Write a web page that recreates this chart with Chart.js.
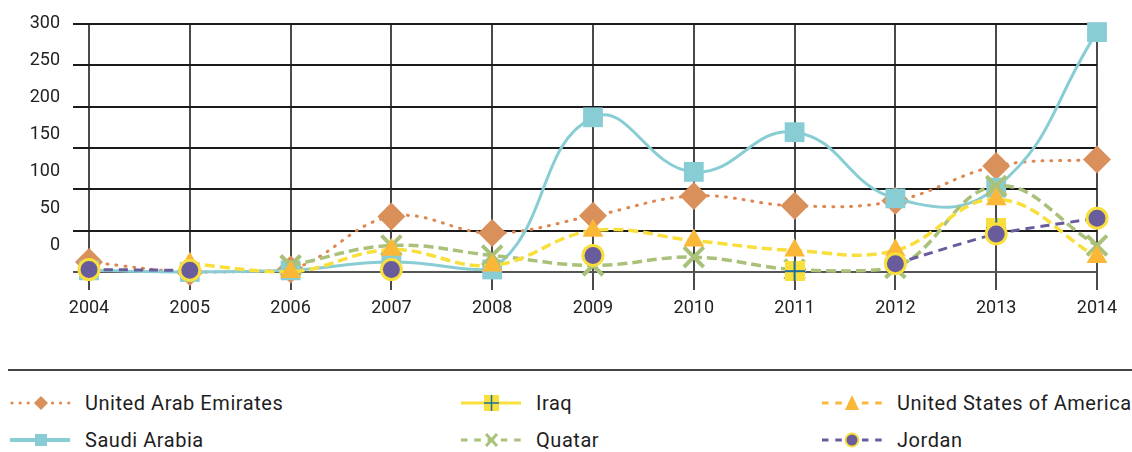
<!DOCTYPE html>
<html><head><meta charset="utf-8">
<script src="https://cdn.jsdelivr.net/npm/chart.js@4"></script>
<style>
html,body{margin:0;padding:0;background:#fff;}
body{width:1132px;height:452px;position:relative;overflow:hidden;font-family:Roboto,sans-serif;}
#wrap{position:absolute;left:0;top:0;width:1132px;height:330px;}
#sep{position:absolute;left:8px;top:369px;width:1124px;height:2px;background:#444;}
.item{position:absolute;height:24px;display:flex;align-items:center;font-size:20px;letter-spacing:0.55px;color:#1e1e1e;white-space:nowrap;}
.item svg{margin-right:13px;flex:none;}
</style></head>
<body>
<div id="wrap"><canvas id="c" width="1132" height="330"></canvas></div>
<div id="sep"></div>
<div id="legend"></div>
<script>
const years = ['2004','2005','2006','2007','2008','2009','2010','2011','2012','2013','2014'];
const uae    = [12, 0, 3, 67, 47, 68, 92, 80, 86, 128, 136];
const iraq   = [null, null, null, null, null, null, null, 1, null, 53, null];
const usa    = [null, 10, 0, 27, 8, 50, 38, 26, 26, 88, 18];
const saudi  = [2, 0, 2, 12, 3, 187, 121, 169, 89, 102, 290];
const quatar = [null, null, 8, 32, 20, 8, 18, 3, 5, 104, 32];
const jordan = [3, 2, null, 3, null, 20, null, null, 10, 46, 65];
const yTickLabels = [0, 50, 100, 150, 200, 250, 300];

const C = {
  uaeLine:'#de8550', uaeMark:'#d9905a',
  teal:'#88cdd4',
  yellow:'#f8df3c', tri:'#fbb838',
  green:'#a9c179',
  purple:'#695c9c',
  blue:'#1b6e9e'
};

// Iraq marker: yellow square with blue plus
const iraqImg = document.createElement('canvas');
iraqImg.width = 20; iraqImg.height = 20;
(function(){
  const g = iraqImg.getContext('2d');
  g.fillStyle = C.yellow; g.fillRect(0,0,20,20);
  g.strokeStyle = C.blue; g.lineWidth = 2;
  g.beginPath(); g.moveTo(10,0); g.lineTo(10,20); g.moveTo(0,10); g.lineTo(20,10); g.stroke();
})();

const font = {family:'Roboto', size:18};

new Chart(document.getElementById('c'), {
  type:'line',
  data:{
    labels: years,
    datasets:[
      {label:'United Arab Emirates', data:uae, yAxisID:'y', borderColor:C.uaeLine, borderWidth:3, borderDash:[1,8], borderCapStyle:'round',
        pointStyle:'rectRot', pointRadius:14, pointBackgroundColor:C.uaeMark, pointBorderWidth:0, tension:0.4, order:5, clip:false},
      {label:'Iraq', data:iraq, yAxisID:'y', borderColor:C.yellow, borderWidth:3,
        pointStyle:iraqImg, pointRadius:10, tension:0.4, order:2, clip:false},
      {label:'United States of America', data:usa, yAxisID:'y', borderColor:C.yellow, borderWidth:3.5, borderDash:[10,5],
        pointStyle:'triangle', pointRadius:12, pointBackgroundColor:C.tri, pointBorderWidth:0, tension:0.4, order:1, clip:false},
      {label:'Saudi Arabia', data:saudi, yAxisID:'y', borderColor:C.teal, borderWidth:3,
        pointStyle:'rect', pointRadius:14, pointBackgroundColor:C.teal, pointBorderWidth:0, tension:0.45, order:4, clip:false},
      {label:'Quatar', data:quatar, yAxisID:'y', borderColor:C.green, borderWidth:3.5, borderDash:[10,5],
        pointStyle:'crossRot', pointRadius:14, pointBorderColor:C.green, pointBorderWidth:4, tension:0.4, order:3, clip:false},
      {label:'Jordan', data:jordan, yAxisID:'y', borderColor:C.purple, borderWidth:3, borderDash:[9,6],
        pointStyle:'circle', pointRadius:10, pointBackgroundColor:C.purple, pointBorderColor:C.yellow, pointBorderWidth:3, tension:0.2, order:0, clip:false}
    ]
  },
  options:{
    responsive:false, animation:false,
    layout:{padding:{top:21, right:35, left:0, bottom:0}},
    plugins:{legend:{display:false}, tooltip:{enabled:false}},
    elements:{point:{hoverRadius:0}},
    scales:{
      x:{type:'category', offset:false,
        grid:{color:'#4a4a4a', lineWidth:2, tickLength:18, drawTicks:true},
        border:{display:false},
        ticks:{font:font, color:'#222', padding:8, maxRotation:0, autoSkip:false},
        afterFit:s=>{s.height=58;}},
      yl:{position:'left', min:-36.2, max:300, weight:1,
        grid:{display:false, drawTicks:false}, border:{display:false},
        ticks:{font:font, color:'#222', padding:13},
        afterBuildTicks:s=>{s.ticks = yTickLabels.map(v=>({value:v}));},
        afterFit:s=>{s.width=73;}},
      y:{position:'left', min:0, max:300, weight:0,
        ticks:{display:false, stepSize:50},
        grid:{color:c=> (c.tick && c.tick.value===0) ? '#555' : '#1a1a1a', lineWidth:2, tickLength:16},
        border:{display:false},
        afterFit:s=>{s.width=16;}}
    }
  }
});

// HTML legend
const legendItems = [
  {label:'United Arab Emirates', x:10, y:391, svg:
    `<line x1="2" y1="12" x2="60" y2="12" stroke="${C.uaeLine}" stroke-width="3" stroke-dasharray="0.1 8" stroke-linecap="round"/>
     <polygon points="31,5 38,12 31,19 24,12" fill="${C.uaeMark}"/>`},
  {label:'Iraq', x:461, y:391, svg:
    `<line x1="0" y1="12" x2="60" y2="12" stroke="${C.yellow}" stroke-width="3"/>
     <rect x="23" y="4" width="15" height="16" fill="${C.yellow}"/>
     <line x1="30.5" y1="4" x2="30.5" y2="20" stroke="${C.blue}" stroke-width="1.5"/>
     <line x1="23" y1="12" x2="38" y2="12" stroke="${C.blue}" stroke-width="1.5"/>`},
  {label:'United States of America', x:822, y:391, svg:
    `<line x1="0" y1="12" x2="60" y2="12" stroke="${C.tri}" stroke-width="3" stroke-dasharray="6.5 6.8"/>
     <polygon points="30,4 37,19 23,19" fill="${C.tri}"/>`},
  {label:'Saudi Arabia', x:10, y:428, svg:
    `<line x1="0" y1="12" x2="60" y2="12" stroke="${C.teal}" stroke-width="4"/>
     <rect x="25" y="6" width="12" height="12" fill="${C.teal}"/>`},
  {label:'Quatar', x:461, y:428, svg:
    `<line x1="0" y1="12" x2="60" y2="12" stroke="${C.green}" stroke-width="3" stroke-dasharray="6.5 6.8"/>
     <line x1="25" y1="6" x2="36" y2="18" stroke="${C.green}" stroke-width="3"/>
     <line x1="36" y1="6" x2="25" y2="18" stroke="${C.green}" stroke-width="3"/>`},
  {label:'Jordan', x:822, y:428, svg:
    `<line x1="0" y1="12" x2="60" y2="12" stroke="${C.purple}" stroke-width="3" stroke-dasharray="6.5 6.8"/>
     <circle cx="30" cy="12" r="6.5" fill="${C.purple}" stroke="${C.yellow}" stroke-width="2"/>`}
];
const lg = document.getElementById('legend');
legendItems.forEach(it=>{
  const d = document.createElement('div');
  d.className = 'item';
  d.style.left = it.x + 'px';
  d.style.top = it.y + 'px';
  d.innerHTML = `<svg width="62" height="24" viewBox="0 0 62 24">${it.svg}</svg><span></span>`;
  d.querySelector('span').textContent = it.label;
  lg.appendChild(d);
});
</script>
</body></html>
